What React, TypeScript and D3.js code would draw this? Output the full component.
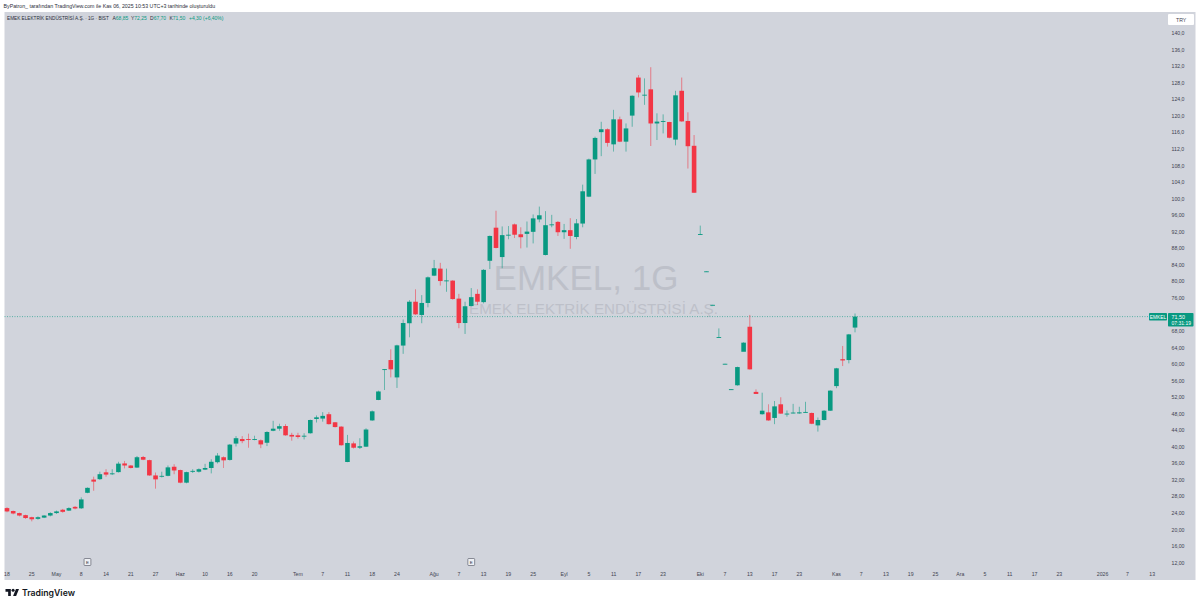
import React from "react";
import * as d3 from "d3";

const opens = [
  25.2, 24.5, 24.0, 23.5, 23.0, 22.6, 22.9, 23.4, 24.0, 24.8,
  24.6, 25.5, 25.15, 28.9, 32.1, 32.2, 33.85, 33.5, 33.9, 36.0,
  35.5, 35, 37.55, 36.8, 33.1, 32.8, 33, 35.2, 34.4, 31.35,
  34, 34, 34.5, 34.9, 36.3, 37.5, 36.85, 40.8, 41.9, 41.9,
  41.75, 41.6, 41, 43.9, 44.4, 45.05, 42.9, 42.8, 42.5, 43.3,
  46.75, 46.85, 47.9, 45.95, 44.9, 36.35, 40.85, 39.8, 40.05, 46.4,
  51.35, 58.6, 61, 56.8, 64.5, 69.9, 75.1, 71.9, 74.8, 81.4,
  83.1, 80.1, 80.2, 75.85, 69.95, 74.05, 77, 75, 85, 93,
  85.9, 91.1, 93.8, 91.4, 91.5, 92, 95, 86.4, 93.6, 94.4,
  91.9, 92.4, 90.75, 94, 100.5, 109.5, 116.1, 116.8, 113.15, 119.2,
  113.8, 120.1, 129.3, 125, 126.45, 118.2, 118.65, 118.55, 114.3, 126.1,
  118.8, 112.8, 91.3, 82.35, 74.25, 66.45, 60, 53.85, 54.9, 63,
  69.05, 53.3, 47.9, 48.35, 47, 50.3, 47.9, 48.1, 48.1, 48.3,
  48.2, 45.2, 46.5, 48.75, 54.7, 61.2, 61, 68.85,
];
const closes = [
  24.4, 23.9, 23.4, 22.8, 22.5, 23.0, 23.4, 24.0, 24.4, 24.3,
  25.2, 25.1, 27.3, 30.1, 31.6, 33.4, 33.3, 33.6, 35.95, 35.5,
  34.9, 37.5, 36.9, 33.1, 32.15, 33, 35.05, 34.3, 31.35, 33.9,
  34.2, 34.6, 34.9, 36.4, 37.9, 36.75, 40.55, 42.1, 41.4, 41.85,
  41.9, 40.6, 43.6, 44.4, 45, 42.8, 42.5, 42.4, 42.7, 46.5,
  47.15, 47.5, 45.5, 44.8, 40.4, 40.95, 39.8, 40.15, 44.2, 48.6,
  53.4, 58.8, 58.75, 64.55, 69.95, 75.1, 72.05, 74.8, 81, 83.2,
  80.1, 80.25, 75.75, 69.95, 74, 76.2, 75.1, 82.8, 91, 88.1,
  91.2, 91.3, 91.3, 90.7, 92.05, 95.25, 96, 93.6, 93.8, 91.9,
  92.4, 91, 94.05, 101.8, 109.5, 114.7, 116.8, 113.5, 119.2, 113.8,
  117, 124.9, 125.7, 125.15, 118.2, 118.65, 118.8, 114.75, 125, 118.7,
  112.7, 101.45, 91.45, 82.45, 74.35, 66.55, 60.1, 53.95, 59.3, 65.2,
  58.75, 52.8, 48.75, 46.4, 49.8, 48.05, 48.05, 48.3, 48.35, 48.45,
  45.6, 46.5, 48.75, 53.6, 59, 60.9, 67.2, 71.5,
];
const highs = [
  25.4, 24.6, 24.1, 23.6, 23.1, 23.2, 23.5, 24.2, 24.6, 25.0,
  25.4, 25.7, 27.8, 30.2, 32.8, 34, 34.6, 34.6, 36.4, 36.6,
  35.6, 37.8, 37.8, 36.9, 33.8, 34, 35.5, 35.8, 34.5, 34,
  34.6, 34.8, 35.9, 37, 38.5, 37.7, 40.7, 42.6, 42.6, 43.2,
  42.7, 41.8, 43.8, 46.3, 45.6, 45.5, 43.4, 43.4, 43.3, 46.6,
  47.6, 48.4, 48.4, 46, 45, 42.9, 41.3, 42.1, 44.5, 48.8,
  53.6, 58.8, 63.6, 64.7, 70.8, 75.5, 78.1, 76.7, 81.2, 85.2,
  84.5, 83.1, 80.3, 77, 75.1, 78.4, 78.1, 83, 91.1, 97.1,
  93.3, 93.4, 94, 93.1, 94.5, 96.2, 98.1, 97, 96.1, 94.6,
  93.9, 95.3, 95.1, 103.4, 109.7, 115, 118.6, 117, 121.5, 119.85,
  118.2, 125, 129.9, 129.1, 131.8, 120.65, 120.4, 118.6, 126.1, 129.3,
  120.9, 115.4, 93.5, 82.45, 74.35, 68.65, 60.1, 53.95, 59.4, 65.3,
  71.9, 53.9, 53.1, 50.3, 51.1, 52, 48.8, 50.4, 49.7, 50.9,
  48.3, 47.1, 48.9, 53.7, 59.1, 64.4, 67.3, 72.25,
];
const lows = [
  24.2, 23.7, 23.2, 22.6, 22, 22.4, 22.8, 23.2, 23.8, 24.1,
  24.5, 24.9, 25, 28.8, 29.4, 32, 32.8, 33.2, 33.8, 34.8,
  34.8, 34.9, 36.8, 33, 29.9, 32.6, 32.9, 33.4, 31.2, 31.2,
  33.7, 33.8, 34.4, 33.6, 36, 34.9, 36.7, 40.1, 40.9, 39.8,
  41.6, 39.7, 40.2, 43.8, 43.9, 42.7, 41.5, 42, 41.8, 43.2,
  45.9, 46.1, 45.4, 44.7, 40.3, 36.3, 39.6, 39.5, 40, 46.3,
  51.3, 53.75, 56.8, 54.25, 62.5, 66.5, 71.9, 69.9, 73.75, 81.3,
  79, 77.5, 75.6, 68.7, 67.3, 74, 74.3, 74.7, 83, 88,
  83.2, 90.2, 90.5, 88, 88.2, 89.2, 94.3, 86.3, 93.1, 91,
  90.3, 87.9, 90.2, 93.1, 100.4, 106, 110.3, 112.6, 111.4, 113.7,
  111.4, 117.4, 124.5, 122.7, 112.75, 114.2, 115.8, 114.6, 112.9, 118.6,
  107.3, 101.4, 91.3, 82.35, 74.25, 66.45, 60, 53.85, 54.8, 64.8,
  58.7, 52.8, 47.8, 46.3, 45.5, 48, 47.3, 48.1, 48, 48.3,
  45.5, 43.7, 46.4, 48.7, 54.2, 59.55, 60.2, 67.7,
];

const priceTicks = d3.range(12, 141, 4).filter((p) => p !== 72);

// bar number of every date label on the time axis
const dateBars = [
  0, 4, 8, 12, 16, 20, 24, 28, 32, 36, 40, 47, 51, 55, 59, 63, 69, 73, 77, 81, 85,
  90, 94, 98, 102, 106, 112, 116, 120, 124, 128, 134, 138, 142, 146, 150, 154, 158,
  162, 166, 170, 177, 181, 185,
];
const dateLabels = [
  "18", "25", "May", "8", "14", "21", "27", "Haz", "10", "16", "20", "Tem", "7", "11",
  "18", "24", "Ağu", "7", "13", "19", "25", "Eyl", "5", "11", "17", "23", "Eki", "7",
  "13", "17", "23", "Kas", "7", "13", "19", "25", "Ara", "5", "11", "17", "23", "2026",
  "7", "13",
];
const earningsBars = [13, 75];

const lastPrice = 71.5;
const UP = "#089981";
const DOWN = "#f23645";
const PANE = "#d1d4dc";
const TEXT = "#3f4350";
const FONT = "'Liberation Sans', Arial, sans-serif";

const x = d3.scaleLinear().domain([0, 185]).range([7, 7 + 6.19 * 185]);
const y = d3.scaleLinear().domain([12, 140]).range([562.7, 33.3]);

const fmt = (p: number) => (p >= 100 ? p.toFixed(1) : p.toFixed(2)).replace(".", ",");

export default function App() {
  const bodyW = 4.6;
  return (
    <svg
      width={1200}
      height={606}
      viewBox="0 0 1200 606"
      fontFamily={FONT}
      style={{ position: "absolute", left: 0, top: 0, display: "block", background: "#fff" }}
    >
      <text x={3.5} y={7.5} fontSize={5.25} fill="#2a2e39">
        ByPatron_ tarafından TradingView.com ile Kas 06, 2025 10:53 UTC+3 tarihinde oluşturuldu
      </text>

      <rect x={4.5} y={12} width={1191} height={568} fill={PANE} />

      <text x={586} y={290} textAnchor="middle" fontSize={35} fill="#bdc0c9">
        EMKEL, 1G
      </text>
      <text x={593.5} y={313.5} textAnchor="middle" fontSize={15.2} fill="#bdc0c9">
        EMEK ELEKTRİK ENDÜSTRİSİ A.Ş.
      </text>

      <text x={7} y={20} fontSize={4.7} fill="#2a2e39">
        EMEK ELEKTRİK ENDÜSTRİSİ A.Ş. · 1G · BIST
      </text>
      <g fontSize={5} fill={UP}>
        <text x={112.5} y={20}>
          <tspan fill="#2a2e39">A</tspan>68,85
        </text>
        <text x={131} y={20}>
          <tspan fill="#2a2e39">Y</tspan>72,25
        </text>
        <text x={150} y={20}>
          <tspan fill="#2a2e39">D</tspan>67,70
        </text>
        <text x={169.5} y={20}>
          <tspan fill="#2a2e39">K</tspan>71,50
        </text>
        <text x={189} y={20}>
          +4,30 (+6,40%)
        </text>
      </g>

      <line
        x1={4.5}
        x2={1148}
        y1={y(lastPrice)}
        y2={y(lastPrice)}
        stroke={UP}
        strokeWidth={0.6}
        strokeDasharray="1 1.5"
      />

      {opens.map((o, i) => {
        const c = closes[i];
        const color = c >= o ? UP : DOWN;
        const top = y(Math.max(o, c));
        const h = Math.max(0.9, y(Math.min(o, c)) - top);
        return (
          <g key={i} fill={color} stroke={color}>
            <line x1={x(i)} x2={x(i)} y1={y(highs[i])} y2={y(lows[i])} strokeWidth={0.7} opacity={0.8} />
            <rect x={x(i) - bodyW / 2} y={top} width={bodyW} height={h} stroke="none" />
          </g>
        );
      })}

      {priceTicks.map((p) => (
        <text key={p} x={1171.5} y={y(p) + 1.9} fontSize={5.2} fill={TEXT}>
          {fmt(p)}
        </text>
      ))}

      <rect x={1168} y={14} width={26} height={11} rx={1} fill="#fff" />
      <text x={1176} y={21.5} fontSize={5.2} fill={TEXT}>
        TRY
      </text>

      <rect x={1149} y={313} width={18} height={7.5} rx={0.8} fill={UP} />
      <text x={1158} y={318.8} textAnchor="middle" fontSize={4.8} fill="#fff">
        EMKEL
      </text>
      <rect x={1168} y={313} width={25.5} height={13.5} rx={0.8} fill={UP} />
      <text x={1171.5} y={318.8} fontSize={5.4} fill="#fff">
        {fmt(lastPrice)}
      </text>
      <text x={1171.5} y={324.8} fontSize={5} fill="#fff">
        07:31:19
      </text>

      {dateBars.map((b, i) => (
        <text key={b} x={x(b)} y={575.6} textAnchor="middle" fontSize={5.2} fill={TEXT}>
          {dateLabels[i]}
        </text>
      ))}

      {earningsBars.map((b) => (
        <g key={b}>
          <rect x={x(b) - 3.4} y={558.5} width={6.8} height={7} rx={0.8} fill="#eef0f4" stroke="#4a4e5a" strokeWidth={0.6} />
          <text x={x(b)} y={563.8} textAnchor="middle" fontSize={4.4} fill="#2a2e39">
            E
          </text>
        </g>
      ))}

      <g transform="translate(5.5 587.6) scale(0.38)" fill="#131722">
        <path d="M14 22H7V11H0V4h14v18zM28 22h-8l7.5-18h8L28 22z" />
        <circle cx={20} cy={7} r={4} />
      </g>
      <text x={22} y={595.6} fontFamily="Inter, 'Noto Sans', sans-serif" fontWeight={600} fontSize={8.7} fill="#131722">
        TradingView
      </text>
    </svg>
  );
}
